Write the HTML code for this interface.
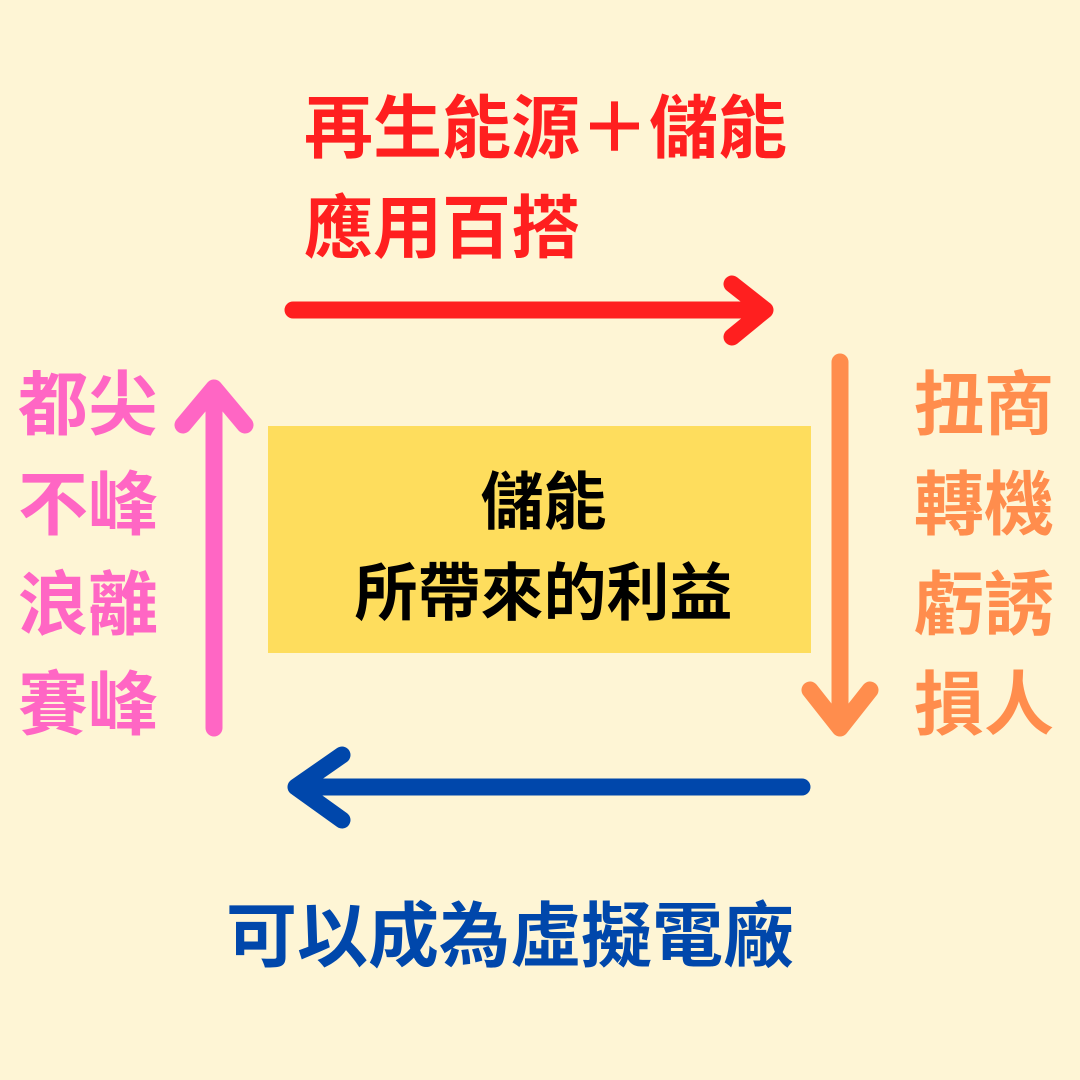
<!DOCTYPE html>
<html><head><meta charset="utf-8"><style>
html,body{margin:0;padding:0}
body{width:1080px;height:1080px;background:#FEF5D5;position:relative;overflow:hidden;font-family:"Noto Sans CJK TC","Liberation Sans",sans-serif;font-weight:700}
.t{position:absolute;white-space:nowrap;line-height:1}
</style></head><body>
<svg width="1080" height="1080" style="position:absolute;left:0;top:0">
<rect x="268" y="426" width="543" height="227" fill="#FEDD5D"/>
<g fill="none" stroke-linecap="round" stroke-linejoin="round" stroke-width="17">
<path d="M293 310H765M732 284L765 310L732 337" stroke="#FF1F1F"/>
<path d="M840 362V728M810 690L840 728L870 690" stroke="#FF8D4D"/>
<path d="M802 787H296M342 755L296 787L342 820" stroke="#0047AB"/>
<path d="M214 728V388M183 425L214 388L245 425" stroke="#FF66C4"/>
</g>
</svg>
<div class="t" style="left:304px;top:72px;font-size:69px;color:#FF1F1F;line-height:100px">再生能源＋儲能<br>應用百搭</div>
<div class="t" style="left:18px;top:350px;font-size:70px;color:#FF66C4;line-height:100px">都尖<br>不峰<br>浪離<br>賽峰</div>
<div class="t" style="left:914px;top:350px;font-size:70px;color:#FF8D4D;line-height:100px">扭商<br>轉機<br>虧誘<br>損人</div>
<div class="t" style="left:272px;width:543px;text-align:center;top:452px;font-size:63px;color:#000;line-height:91px">儲能<br>所帶來的利益</div>
<div class="t" style="left:226px;top:896px;font-size:71px;color:#0047AB">可以成為虛擬電廠</div>
</body></html>
